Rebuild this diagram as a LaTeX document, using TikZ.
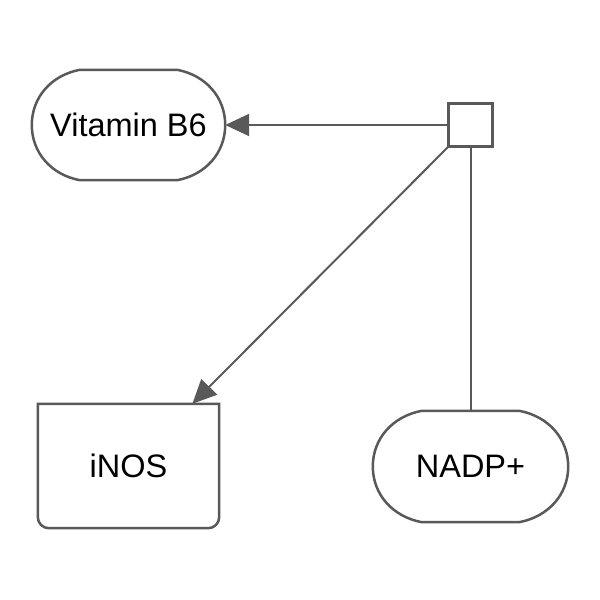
\documentclass[tikz,border=0pt]{standalone}
\usepackage{fontspec}
\setmainfont{Liberation Sans}
\usetikzlibrary{arrows.meta,calc}
\tikzset{
  shp/.style={draw=none, inner sep=0pt, font=\fontsize{32.5}{38}\selectfont},
  outline/.style={draw=black!65, line width=2.5pt, fill=white},
  conn/.style={draw=black!65, line width=2pt},
  arr/.style={conn, -{Triangle[length=24pt,width=22pt]}}
}
\newcommand{\pillpath}[3]{% node, end width a, half height b
  \draw[outline] ($(#1.north west)+(#2,0)$) -- ($(#1.north east)+(-#2,0)$)
    .. controls +(0.6*#2,-0.1*#3) and +(0,0.5*#3) .. (#1.east)
    .. controls +(0,-0.5*#3) and +(0.6*#2,0.1*#3) .. ($(#1.south east)+(-#2,0)$)
    -- ($(#1.south west)+(#2,0)$)
    .. controls +(-0.6*#2,0.1*#3) and +(0,-0.5*#3) .. (#1.west)
    .. controls +(0,0.5*#3) and +(-0.6*#2,-0.1*#3) .. cycle;}
\begin{document}
\begin{tikzpicture}[x=1pt,y=1pt]
\useasboundingbox (0,0) rectangle (600,600);
% nodes (text carriers)
\node[shp, minimum width=193pt, minimum height=110pt] (vit) at (128.5,475) {};
\node[shp, minimum width=44pt, minimum height=43pt] (pr) at (470.5,475) {};
\node[shp, minimum width=181pt, minimum height=124pt] (inos) at (128.5,134) {};
\node[shp, minimum width=195pt, minimum height=111pt] (nadp) at (470.5,133.5) {};
% outlines
\pillpath{vit}{48}{55}
\pillpath{nadp}{49}{55.5}
\draw[outline] (inos.north west) -- ($(inos.south west)+(0,11)$)
  arc[start angle=180, end angle=270, radius=11]
  -- ($(inos.south east)+(-11,0)$)
  arc[start angle=270, end angle=360, radius=11]
  -- (inos.north east) -- cycle;
\draw[outline] (pr.north west) rectangle (pr.south east);
% labels
\node[shp] (vitl) at (vit.center) {Vitamin B6};
\node[shp] (inosl) at (inos.center) {iNOS};
\node[shp] (nadpl) at (nadp.center) {NADP+};
% connectors
\coordinate (inosin) at ($(inos.north west)!0.852!(inos.north east)$);
\draw[arr] (pr.west) -- (vit.east);
\draw[arr] (pr.south west) -- (inosin);
\draw[conn] (pr.south) -- (pr.south |- nadp.north);
\end{tikzpicture}
\end{document}
